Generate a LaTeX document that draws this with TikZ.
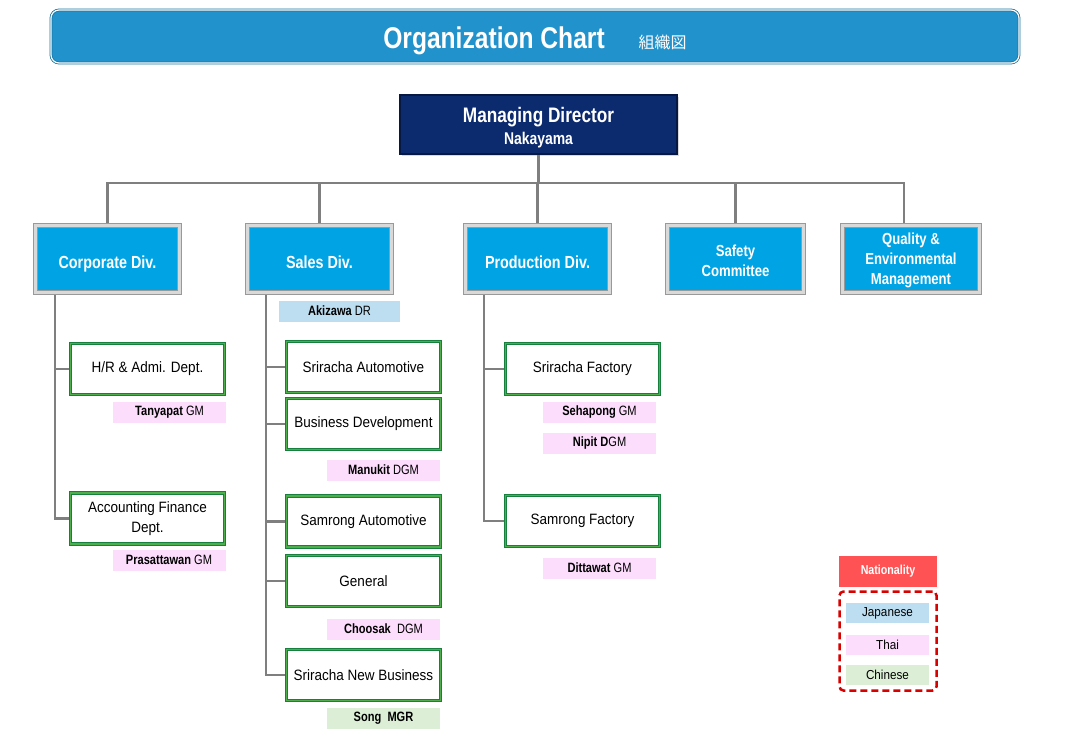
\documentclass[tikz,border=0pt]{standalone}
\usepackage{fontspec}
\setmainfont{Liberation Sans}
\newfontfamily\narrowfont{Liberation Sans}[FakeStretch=0.82]
\newfontfamily\deptfont{Liberation Sans}[FakeStretch=0.9]
\newfontfamily\jpfont{Noto Sans CJK JP}
\usetikzlibrary{shadows,backgrounds}
\definecolor{titleblue}{HTML}{2192CB}
\definecolor{navybox}{HTML}{0C2A6E}
\definecolor{divcyan}{HTML}{00A3E4}
\definecolor{deptgreen}{HTML}{17803C}
\definecolor{thaipink}{HTML}{FCDDFC}
\definecolor{japblue}{HTML}{BDDEF1}
\definecolor{chngreen}{HTML}{DCEFD6}
\definecolor{natred}{HTML}{FF5254}
\definecolor{linegray}{HTML}{7F7F7F}
\colorlet{dashred}{red!85!black}

\tikzset{
  link/.style={draw=linegray, line width=2.2pt},
  divbox/.style={rectangle, fill=divcyan, draw=gray!80, double=gray!30, double distance=3pt,
    line width=0.8pt, minimum width=144pt, minimum height=67pt, align=center, text=white,
    drop shadow={opacity=0.25, shadow xshift=1.5pt, shadow yshift=-1.5pt},
    font=\narrowfont\bfseries\fontsize{17.5}{20}\selectfont},
  oneline/.style={text height=18pt, text depth=0pt},
  deptbox/.style={rectangle, fill=white, draw=deptgreen, double=green!55!black!70, double distance=1.2pt,
    line width=1pt, minimum width=154pt, minimum height=51pt, align=center,
    drop shadow={opacity=0.25, shadow xshift=1.5pt, shadow yshift=-1.5pt},
    font=\deptfont\fontsize{15}{20}\selectfont},
  namelbl/.style={rectangle, inner sep=0pt, minimum width=113pt, minimum height=21pt,
    font=\narrowfont\fontsize{13.5}{15}\selectfont},
  thai/.style={namelbl, fill=thaipink},
  jap/.style={namelbl, fill=japblue},
  chn/.style={namelbl, fill=chngreen},
  keybox/.style={rectangle, inner sep=0pt, minimum width=83pt, minimum height=20pt,
    font=\deptfont\fontsize{13}{15}\selectfont},
}

\begin{document}
\begin{tikzpicture}[x=1pt,y=-1pt]
\useasboundingbox (0,0) rectangle (1071,732);

% title bar
\node[rectangle, rounded corners=8pt, fill=titleblue, draw=titleblue!80!black, double=white,
  double distance=1.2pt, line width=0.8pt, minimum width=968pt, minimum height=53pt, text=white,
  text height=24pt, text depth=0pt]
  (title) at (535,36.5) {\narrowfont\bfseries\fontsize{30}{34}\selectfont Organization Chart\hspace{34pt}%
  {\jpfont\mdseries\fontsize{16}{18}\selectfont 組織図}};

% top
\node[rectangle, fill=navybox, draw=navybox!60!black, line width=2pt, minimum width=277pt,
  minimum height=59pt, align=center, text=white,
  drop shadow={opacity=0.3, shadow xshift=1.5pt, shadow yshift=-1.5pt},
  font=\narrowfont\bfseries\fontsize{17}{22}\selectfont]
  (md) at (538.5,124.5) {\rule{0pt}{21pt}{\fontsize{21}{22}\selectfont Managing Director}\\Nakayama};

% divisions
\node[divbox, oneline] (corp) at (107.5,259) {Corporate Div.};
\node[divbox, oneline] (sales) at (319.5,259) {Sales Div.};
\node[divbox, oneline] (prod) at (537.5,259) {Production Div.};
\node[divbox, minimum width=136pt, font=\narrowfont\bfseries\fontsize{16}{20}\selectfont]
  (safety) at (735.5,259) {\rule{0pt}{15pt}Safety\\Committee};
\node[divbox, minimum width=137pt, font=\narrowfont\bfseries\fontsize{16}{20}\selectfont]
  (qual) at (911,259) {\rule{0pt}{15pt}Quality \&\\Environmental\\Management};

% corporate
\node[deptbox] (hr) at (147.5,369) {H/R \& Admi. Dept.};
\node[thai] (tanyapat) at (169.5,412.5) {\textbf{Tanyapat} GM};
\node[deptbox] (acc) at (147.5,518.5) {Accounting Finance\\Dept.};
\node[thai] (prasat) at (169,560) {\textbf{Prasattawan} GM};

% sales
\node[jap, minimum width=121pt] (akizawa) at (339.5,311) {\textbf{Akizawa} DR};
\node[deptbox] (sa) at (363.5,367) {Sriracha Automotive};
\node[deptbox] (bd) at (363.5,424) {Business Development};
\node[thai] (manukit) at (383.5,470) {\textbf{Manukit} DGM};
\node[deptbox] (samA) at (363.5,521.5) {Samrong Automotive};
\node[deptbox] (gen) at (363.5,581) {General};
\node[thai] (choosak) at (383.5,629) {\textbf{Choosak}\ \ DGM};
\node[deptbox] (snb) at (363.5,675) {Sriracha New Business};
\node[chn] (song) at (383.5,718.5) {\textbf{Song\ \ MGR}};

% production
\node[deptbox] (sf) at (582.5,369) {Sriracha Factory};
\node[thai] (sehapong) at (599.5,412.5) {\textbf{Sehapong} GM};
\node[thai] (nipit) at (599.5,443) {\textbf{Nipit D}GM};
\node[deptbox] (rf) at (582.5,521) {Samrong Factory};
\node[thai] (dittawat) at (599.5,568) {\textbf{Dittawat} GM};

% legend
\node[rectangle, fill=natred, minimum width=98pt, minimum height=31pt, text=white,
  font=\narrowfont\bfseries\fontsize{13}{15}\selectfont] (nat) at (888,571.5) {Nationality};
\node[rectangle, draw=dashred, dashed, dash pattern=on 7pt off 4pt, line width=2.5pt,
  rounded corners=4pt, minimum width=97pt, minimum height=99pt] (legend) at (888,641) {};
\node[keybox, fill=japblue] (kjap) at (887.5,613) {Japanese};
\node[keybox, fill=thaipink] (kthai) at (887.5,645) {Thai};
\node[keybox, fill=chngreen] (kchn) at (887.5,675) {Chinese};

% connectors
\begin{scope}[on background layer]
\coordinate (bus) at (0,183);
\coordinate (qtop) at (904,0);
\coordinate (ctrunk) at (55,0);
\coordinate (strunk) at (266,0);
\coordinate (ptrunk) at (484,0);
\draw[link] (md.south) -- (md.south |- bus);
\draw[link] (corp.north) |- (qtop |- bus) -- (qtop |- qual.north);
\foreach \d in {sales,prod,safety}
  \draw[link] (\d.north) -- (\d.north |- bus);
\draw[link] (corp.south -| ctrunk) |- (acc.west);
\draw[link] (hr.west -| ctrunk) -- (hr.west);
\draw[link] (sales.south -| strunk) |- (snb.west);
\foreach \b in {sa,bd,samA,gen}
  \draw[link] (\b.west -| strunk) -- (\b.west);
\draw[link] (prod.south -| ptrunk) |- (rf.west);
\draw[link] (sf.west -| ptrunk) -- (sf.west);
\end{scope}
\end{tikzpicture}
\end{document}
